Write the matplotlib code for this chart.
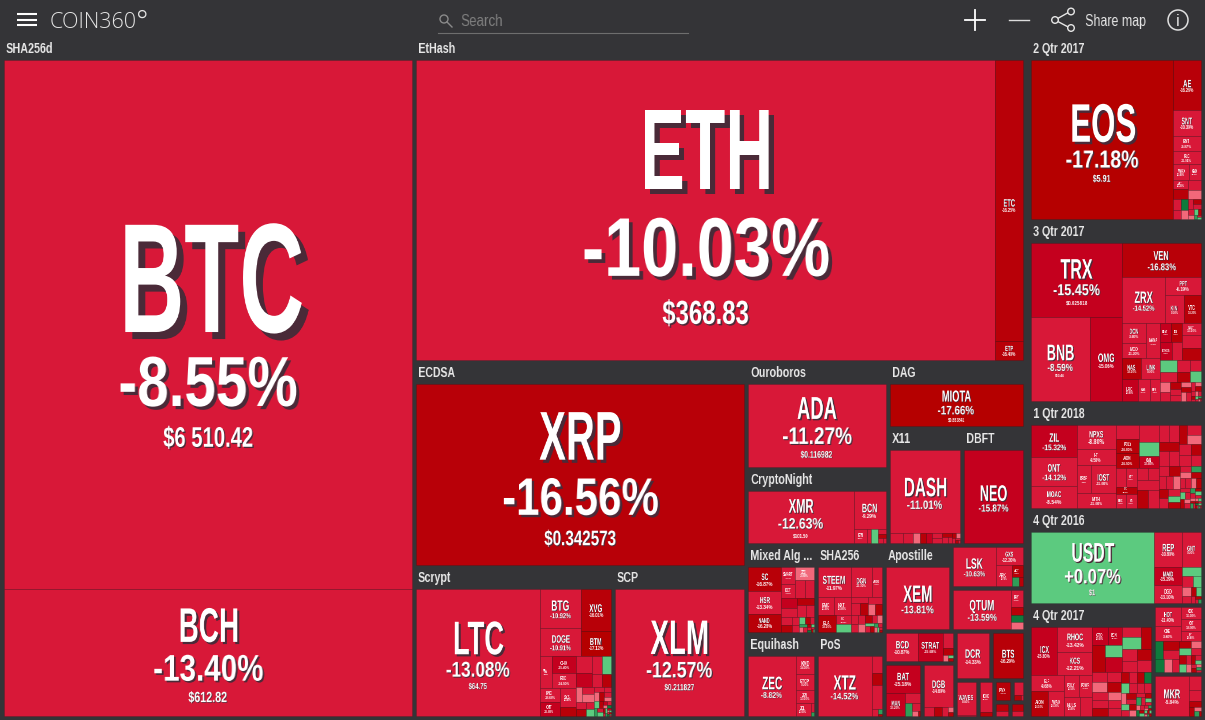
import numpy as np
import matplotlib
matplotlib.use('Agg')
import matplotlib.pyplot as plt
import matplotlib.patheffects as pe
from matplotlib.patches import Rectangle, Circle

# outer size of every block (header included) and how the blocks nest
group_sizes = {
    'sha256d': 280160, 'ethash': 197964, 'ecdsa': 68060, 'scrypt': 30049, 'scp': 20083,
    'ouroboros': 15194, 'cryptonight': 10792, 'dag': 9042, 'x11': 8658, 'dbft': 7371,
    'mixed': 6230, 'sha256': 6052, 'equihash': 5880, 'pos': 5712, 'apostille': 5762,
    'lsk': 3182, 'qtum': 3182, 'bcd': 2272, 'bat': 2118, 'dgb': 1788, 'dcr': 1764, 'bts': 1666,
    'waves': 874, 'kbc': 608, 'pivx': 396, 'xdn': 286, 'tiny1': 250, 'tiny2': 246,
    'gap': 2720, 'q2_17': 31842, 'q3_17': 31668, 'q1_18': 18618, 'q4_16': 16530,
    'q4_17': 14012, 'hot': 3450, 'mkr': 2200,
}
group_tree = ['sha256d', [
    ['ethash', [
        ['ecdsa', ['scrypt', 'scp']],
        [
            [['ouroboros', 'cryptonight'], ['dag', ['x11', 'dbft']]],
            [
                [['mixed', 'sha256'], ['equihash', 'pos']],
                [
                    ['apostille', ['lsk', 'qtum']],
                    [
                        ['bcd', ['bat', 'dgb']],
                        [['dcr', 'bts'], ['waves', ['kbc', [['pivx', 'xdn'], ['tiny1', 'tiny2']]]]],
                    ],
                ],
            ],
        ],
    ]],
    ['gap', [['q2_17', 'q3_17'], ['q1_18', ['q4_16', ['q4_17', ['hot', 'mkr']]]]], 'across'],
]]
group_titles = {
    'sha256d': 'SHA256d', 'ethash': 'EtHash', 'ecdsa': 'ECDSA', 'scrypt': 'Scrypt', 'scp': 'SCP',
    'ouroboros': 'Ouroboros', 'cryptonight': 'CryptoNight', 'dag': 'DAG', 'x11': 'X11', 'dbft': 'DBFT',
    'mixed': 'Mixed Alg ...', 'sha256': 'SHA256', 'equihash': 'Equihash', 'pos': 'PoS',
    'apostille': 'Apostille', 'q2_17': '2 Qtr 2017', 'q3_17': '3 Qtr 2017', 'q1_18': '1 Qtr 2018',
    'q4_16': '4 Qtr 2016', 'q4_17': '4 Qtr 2017',
}

# cells of each block, biggest labelled ones first; unnamed cells had no readable text
names, sizes, changes, prices = {}, {}, {}, {}

names['sha256d'] = ['BTC', 'BCH']
sizes['sha256d'] = [215800, 52000]
changes['sha256d'] = [-8.55, -13.40]
prices['sha256d'] = ['$6 510.42', '$612.82']

names['ethash'] = ['ETH', 'ETC', 'ETP']
sizes['ethash'] = [173000, 7840, 530]
changes['ethash'] = [-10.03, -16.25, -16.4]
prices['ethash'] = ['$368.83']

names['ecdsa'] = ['XRP']
sizes['ecdsa'] = [59000]
changes['ecdsa'] = [-16.56]
prices['ecdsa'] = ['$0.342573']

names['scp'] = ['XLM']
sizes['scp'] = [16500]
changes['scp'] = [-12.57]
prices['scp'] = ['$0.211827']

names['scrypt'] = ['LTC', 'BTG', 'DOGE', 'XVG', 'BTM', 'VIA', 'CHX', 'RDD', 'KNC', 'CMT', 'SYS']
sizes['scrypt'] = [15500, 1596, 1176, 1230, 750, 397, 370, 340, 293, 283, 300, 130,
                   260, 220, 180, 150, 130, 120, 100, 90, 84, 80, 70, 60, 55, 50, 45, 40, 38, 35, 32, 30,
                   28, 25, 22, 20, 18, 16, 14, 12, 10, 9, 8, 7, 6, 5, 4, 4, 3, 3, 2, 2]
changes['scrypt'] = [-13.08, -10.92, -10.91, -16.01, -17.12, -9.2, -15.4, -14.5, -10.6, -15.8, -11.4, -16,
                     -12, -15.5, -11, 0.5, -13, -16, -4, -12, -3, -11, -16, -13, 0.5, -9, -4, -16, -12, -11, -3, 0.6,
                     -16, 2.5, -12, 0.4, -15.5, -3, -11, 3.5, -16, 0.5, -12, 2, -15, -3, 0.4, -12, 3, -16, 0.5, -11]
prices['scrypt'] = ['$64.75']

names['ouroboros'] = ['ADA']
sizes['ouroboros'] = [11400]
changes['ouroboros'] = [-11.27]
prices['ouroboros'] = ['$0.116982']

names['cryptonight'] = ['XMR', 'BCN', 'ETN']
sizes['cryptonight'] = [5460, 1221, 180, 60, 90, 40, 30, 25, 15]
changes['cryptonight'] = [-12.63, -9.29, -12, -11, 0.5, -13, -16, -12, -11]
prices['cryptonight'] = ['$101.50']

names['dag'] = ['MIOTA']
sizes['dag'] = [5600]
changes['dag'] = [-17.66]
prices['dag'] = ['$0.853841']

names['x11'] = ['DASH']
sizes['x11'] = [5644, 130, 90, 70, 60, 60, 50, 45, 40, 30, 25, 20, 18, 14, 10, 8, 6]
changes['x11'] = [-11.01, -12, -11, -3, -16, -15.5, -11, -12, -16, -10, -12, -16, -3, -12, -11, -16, -13]
prices['x11'] = []

names['dbft'] = ['NEO']
sizes['dbft'] = [5490]
changes['dbft'] = [-15.87]
prices['dbft'] = []

names['mixed'] = ['SC', 'HSR', 'NAND', 'SMART', 'DCT', 'XZC']
sizes['mixed'] = [792, 726, 594, 220, 195, 240, 190, 160, 140, 130, 120, 100, 90, 85, 70, 60, 50, 40, 35, 30, 25, 20,
                  18, 15, 12, 10, 8, 6, 5, 4]
changes['mixed'] = [-16.87, -13.34, -16.28, -12, -11, -3, -12, -11, -15.5, -13, -16, -11, -12, -12, -16, -11, -13,
                    0.5, -16, -12, 1.5, -3, -11, -16, 0.4, -12, 3, -11, -16, 0.5]
prices['mixed'] = []

names['sha256'] = ['STEEM', 'DGN', 'ARDR', 'EMC', 'NXT', 'ELA', 'CSC']
sizes['sha256'] = [924, 594, 289, 272, 285, 285, 120, 102, 100, 95, 90, 85, 80, 70, 65, 60, 55, 50, 45, 40, 35, 30, 25,
                   20, 18, 15, 12, 10, 8, 6]
changes['sha256'] = [-11.97, -12.1, -10.4, -11.3, -10.8, -16.1, -12, 0.6, -12, -11, -16, -13, -3, -16, -12, -11, -12,
                     -3, -16, -11, -4, 0.5, -12, -16, 2.5, -11, -3, 0.4, -12, -16]
prices['sha256'] = []

names['equihash'] = ['ZEC', 'KMD', 'BTCP', 'ZEN', 'ZCL']
sizes['equihash'] = [2860, 324, 306, 234, 198, 30, 12]
changes['equihash'] = [-8.82, -14.0, -9.2, -13.0, -11.0, -13, 2]
prices['equihash'] = []

names['pos'] = ['XTZ']
sizes['pos'] = [3200, 170, 120, 230, 40, 20, 10]
changes['pos'] = [-14.52, -12, -16.5, -12, -11, 2.5, -16]
prices['pos'] = []

names['apostille'] = ['XEM']
sizes['apostille'] = [3900]
changes['apostille'] = [-13.81]
prices['apostille'] = []

names['lsk'] = ['LSK', 'GXS', 'ARK', 'ACT']
sizes['lsk'] = [1596, 486, 320, 121, 63, 36]
changes['lsk'] = [-10.63, -12.2, -9.7, -16.0, 2.5, -16]
prices['lsk'] = []

names['qtum'] = ['QTUM', 'PAY']
sizes['qtum'] = [1995, 180, 84, 84, 72]
changes['qtum'] = [-13.59, -11.8, -16.5, 3.5, -3]
prices['qtum'] = []

names['bcd'] = ['BCD', 'STRAT']
sizes['bcd'] = [832, 650, 140, 60, 30, 15, 12]
changes['bcd'] = [-10.87, -15.68, -12, -16, -4, 0.5, -16]
prices['bcd'] = []

names['bat'] = ['BAT', 'MAN']
sizes['bat'] = [952, 437, 150, 85, 70, 30, 10]
changes['bat'] = [-15.18, -15.2, -12, 2.5, -12, -3, -16]
prices['bat'] = []

names['dgb'] = ['DGB']
sizes['dgb'] = [1176, 90, 70, 50, 30, 20]
changes['dgb'] = [-14.69, -12, -16, -11, -3, -16]
prices['dgb'] = []

names['dcr'] = ['DCR']
sizes['dcr'] = [1350]
changes['dcr'] = [-14.33]
prices['dcr'] = []

names['bts'] = ['BTS']
sizes['bts'] = [1300]
changes['bts'] = [-16.29]
prices['bts'] = []

names['waves'] = ['WAVES']
sizes['waves'] = [560, 16]
changes['waves'] = [-8.6, -12]
prices['waves'] = []

names['kbc'] = ['ICXC']
sizes['kbc'] = [300, 42]
changes['kbc'] = [-12.4, -16]
prices['kbc'] = []

names['pivx'] = ['PIVX']
sizes['pivx'] = [224]
changes['pivx'] = [-16.2]
prices['pivx'] = []

names['xdn'] = []
sizes['xdn'] = [100, 30, 10]
changes['xdn'] = [-12, -16, -11]
prices['xdn'] = []

names['tiny1'] = []
sizes['tiny1'] = [60, 45]
changes['tiny1'] = [-16, -12]
prices['tiny1'] = []

names['tiny2'] = []
sizes['tiny2'] = [55, 35]
changes['tiny2'] = [-16, -12]
prices['tiny2'] = []

names['q2_17'] = ['EOS', 'AE', 'SNT', 'BNT', 'RLC', 'WAX', 'GNO', 'ANT']
sizes['q2_17'] = [22300, 1372, 700, 420, 364, 240, 180, 140, 140, 130, 110, 90, 80, 70, 60, 50, 45, 40, 30, 25, 20, 15, 12, 10, 8]
changes['q2_17'] = [-17.18, -16.26, -10.39, -9.87, -11.91, -11.4, -12.1, -11.2, -16, -12, -3, -11, 3.5, -13, -3.5,
                    -12, -16, -11, -12, -3, 0.5, -16, 2.5, -11, 0.4]
prices['q2_17'] = ['$5.91']

names['q3_17'] = ['TRX', 'BNB', 'OMG', 'VEN', 'ZRX', 'PPT', 'KIN', 'VTC', 'DCN', 'MCO', 'MANA', 'NAS', 'LINK', 'LRC',
                  'GAS', 'RPX', 'DENT', 'ICN', 'ETHOS', '', 'SALT']
sizes['q3_17'] = [6734, 4956, 2688, 2652, 2016, 648, 522, 493, 462, 378, 484, 396, 396, 352, 252, 234, 198,
                  198, 209, 198, 209, 260, 220, 190, 170, 150, 130, 120, 110, 100, 90, 80, 70, 60, 55, 50, 45, 40, 35, 30,
                  26, 22, 18, 15, 12, 10, 8, 6, 5, 4, 3, 2]
changes['q3_17'] = [-15.45, -8.59, -15.06, -16.83, -14.52, -6.19, -9.1, -16.2, -9.8, -11.2, -10.4, -16.1, -9.9, -15.8,
                    -13.2, -11.6, -15.9, -16.3, -15.8, -12, -13.1, -12, -16, 0.5, -12, -13, -16, -11, 0.5, -3, -12, -16, -11,
                    -12, -3, -16, -3, -12, -13, -4, -16, -11, -3, -12, -16, -13, 0.5, -11, 2.5, -16, -3, -12]
prices['q3_17'] = ['$0.025818', '$10.44']

names['q1_18'] = ['ZIL', 'ONT', 'MOAC', 'NPXS', 'HT', 'BRBP', 'IOST', 'MITH', '', 'POLY', 'AION', '', '', 'OMN', '', 'GVT',
                  'CVC', 'BBC', 'CS']
sizes['q1_18'] = [1216, 1102, 836, 760, 494, 304, 572, 468, 273, 273, 273, 273, 216, 189, 168, 162, 126, 120, 120, 110,
                  110, 180, 170, 160, 150, 140, 135, 130, 125, 120, 115, 110, 105, 100, 95, 90, 85, 80, 80, 75, 75, 70, 70,
                  65, 60, 60, 55, 55, 50, 50, 45, 45, 40, 40, 35, 35, 30, 30, 25, 25, 22, 20, 18, 16, 14, 12, 10, 10, 8, 8,
                  6, 6, 5, 5, 4, 4, 3, 3, 2, 2]
changes['q1_18'] = [-15.32, -14.12, -8.54, -8.8, -9.5, -7.8, -11.0, -11.0, -12, -16, -16.5, -12, 0.6, -15.8, -12.5, -13,
                    -16, -10, -12, -11, -12, -12, -16, -11, -13, -12, -16, -11, -12, -16, -12, -3, -11, -12, -16, -13, -11, -16,
                    -12, -11, -3, -16, -12, -11, 0.5, -16, -12, -3, 2, -16, -11, -12, -3, -16, -12, 0.5, -11, -16, -3, -12,
                    2.5, -11, -16, 0.5, -12, -3, -16, 1.5, -11, -3, -16, 0.5, -12, 3, -16, -3, 0.5, -12, 2.5, -11]
prices['q1_18'] = []

names['q4_16'] = ['USDT', 'REP', 'GNT', 'MAID', 'DGD']
sizes['q4_16'] = [8540, 952, 646, 504, 476, 170, 120, 90, 80, 60, 50, 40, 30, 20, 14, 10]
changes['q4_16'] = [0.07, -10.8, -9.2, -15.29, -13.1, 0.6, -12, 0.5, -3, -12, -16, 0.7, -11, -16, -12, 2]
prices['q4_16'] = ['$1']

names['q4_17'] = ['ICX', 'RHOC', 'KCS', 'ELF', 'AION', 'WAX', 'POLY', 'POWR', 'NULS', '', 'GTO', 'BCN']
sizes['q4_17'] = [1075, 759, 693, 450, 364, 360, 280, 260, 260, 208, 234, 216,
                  300, 180, 220, 170, 180, 190, 160, 150, 140, 135, 130, 125, 120, 115, 110, 105, 100, 95, 90, 85, 80, 80,
                  75, 70, 70, 65, 60, 55, 55, 50, 45, 45, 40, 40, 35, 30, 30, 25, 25, 22, 20, 18, 16, 14, 12, 10, 10, 8, 8, 6,
                  6, 5, 5, 4, 4, 3, 3, 2, 2]
changes['q4_17'] = [-15.8, -13.42, -12.21, -9.68, -16.1, -10.3, -11.5, -12.4, -11.8, -12.2, -15.6, -15.4,
                    -16, 0.5, -15.5, -12, 0.6, -16, -12, -11, -16, -13, -12, -3, -11, -16, -12, -11, -16, -3, -12, -13, -16, -11,
                    0.5, -12, -16, 4, -11, -12, -3, -16, -11, 0.5, -12, -16, -3, -13, 2.5, -12, -16, 0.5, -11, -3, -12, 3.5,
                    -16, 0.5, -12, -3, 2, -16, 0.4, -11, -3, -16, 0.5, -12, 2.5, -11, -16]
prices['q4_17'] = []

names['hot'] = ['HOT', 'ODE', 'CDC', 'CVT', 'BFT']
sizes['hot'] = [414, 322, 198, 198, 150, 120, 130, 110, 100, 90, 80, 75, 70, 60, 55, 50, 45, 40, 35, 30, 25, 20, 18, 15, 12, 10, 8]
changes['hot'] = [-11.4, -9.6, -11.0, -10.9, -10.4, 4, -16, -12, 4.5, -3, -12, -16, 0.6, -3, -11, -16, -12, 0.5, -3, -16, -11, 0.6,
                  -12, -16, -3, 2.5, -11]
prices['hot'] = []

names['mkr'] = ['MKR']
sizes['mkr'] = [1360, 170, 130, 70, 50, 30, 20, 12]
changes['mkr'] = [-5.84, -11, -12, -16, -16, -3, 2.5, -16]
prices['mkr'] = []


def cell_colour(change):
    if change >= 3:
        return '#0f7a3c'
    if change >= 1:
        return '#2f9d58'
    if change >= 0:
        return '#5cca7f'
    if change > -5:
        return '#f2687a'
    if change > -15:
        return '#d81838'
    if change > -16:
        return '#c4001e'
    if change > -17:
        return '#b80008'
    return '#b50000'


def squeeze(factor, left=False):
    # the reference font is a condensed one, so narrow the drawn text sideways
    def apply(img, dpi):
        h, w = img.shape[:2]
        new_w = max(1, int(round(w * factor)))
        cols = np.linspace(0, w - 1, new_w)
        lo = cols.astype(int)
        hi = np.minimum(lo + 1, w - 1)
        t = (cols - lo)[None, :, None]
        pre = img.copy()
        pre[..., :3] *= img[..., 3:]
        out = pre[:, lo] * (1 - t) + pre[:, hi] * t
        a = out[..., 3:]
        out[..., :3] = np.where(a > 0, out[..., :3] / np.maximum(a, 1e-6), 0)
        return out, 0 if left else (w - new_w) // 2, 0
    return apply


def subtree_size(node):
    if isinstance(node, str):
        return group_sizes[node]
    return subtree_size(node[0]) + subtree_size(node[1])


def split_rect(rect, share, across=False):
    x0, y0, x1, y1 = rect
    if across or x1 - x0 > y1 - y0:
        xm = x0 + (x1 - x0) * share
        return (x0, y0, xm, y1), (xm, y0, x1, y1)
    ym = y0 + (y1 - y0) * share
    return (x0, y0, x1, ym), (x0, ym, x1, y1)


def place_groups(node, rect, out):
    if isinstance(node, str):
        out[node] = rect
        return
    left, right = node[0], node[1]
    a, b = split_rect(rect, subtree_size(left) / subtree_size(node), len(node) > 2)
    place_groups(left, a, out)
    place_groups(right, b, out)


def binary_cells(values, i, j, rect, out):
    # binary treemap: cut where the running total is nearest half
    if j - i == 1:
        out[i] = rect
        return
    running = np.cumsum(values[i:j])
    k = int(np.argmin(np.abs(running[:-1] - running[-1] / 2)))
    a, b = split_rect(rect, running[k] / running[-1])
    binary_cells(values, i, i + k + 1, a, out)
    binary_cells(values, i + k + 1, j, b, out)


def put_text(ax, x, y, txt, cap, factor):
    t = ax.text(x, y, txt, ha='center', va='baseline', fontsize=cap, color='white',
                family=['Liberation Sans', 'DejaVu Sans'], weight='bold')
    t.set_agg_filter(squeeze(factor))
    if cap >= 5:
        off = cap * 0.045
        t.set_path_effects([pe.withSimplePatchShadow(offset=(off / factor, -off),
                                                     shadow_rgbFace='#4a2a38', alpha=1)])


def label_cell(ax, rect, name, change, price):
    x0, y0, x1, y1 = rect
    w, h = x1 - x0, y1 - y0
    name_cap = min(0.275 * min(w, h), w * 0.9 / (len(name) * 0.58))
    pct_cap = min(0.125 * w, 0.21 * h, 60)
    price_cap = 0.4 * pct_cap
    show_price = bool(price) and pct_cap >= 4
    total = name_cap + 0.45 * pct_cap + pct_cap
    if show_price:
        total += 0.4 * pct_cap + price_cap
    cx = (x0 + x1) / 2
    y = (y0 + y1) / 2 + 0.017 * h - total / 2 + name_cap
    put_text(ax, cx, y, name, name_cap, 0.58)
    y += 0.45 * pct_cap + pct_cap
    put_text(ax, cx, y, f'{change:+.2f}%', pct_cap, 0.8)
    if show_price:
        y += 0.4 * pct_cap + price_cap
        put_text(ax, cx, y, price, price_cap, 0.72)


fig = plt.figure(figsize=(12.05, 7.2), dpi=100, facecolor='#343437')
ax = fig.add_axes([0, 0, 1, 1])
ax.set_xlim(0, 1205)
ax.set_ylim(720, 0)
ax.axis('off')

group_rects = {}
place_groups(group_tree, (2, 38, 1203, 718), group_rects)

for key, outer in group_rects.items():
    if key == 'gap':
        continue
    title = group_titles.get(key)
    top = 22 if title else 2
    inner = (outer[0] + 2, outer[1] + top, outer[2] - 2, outer[3] - 2)
    if title:
        t = ax.text(inner[0] + 2, outer[1] + 15, title, ha='left', va='baseline', fontsize=11,
                    color='#e8e8e8', family='Liberation Sans', weight='bold')
        t.set_agg_filter(squeeze(0.7, left=True))
    values = np.array(sizes[key], dtype=float)
    cells = {}
    binary_cells(values, 0, len(values), inner, cells)
    for i in range(len(values)):
        x0, y0, x1, y1 = cells[i]
        ax.add_patch(Rectangle((x0, y0), x1 - x0, y1 - y0, facecolor=cell_colour(changes[key][i]),
                               edgecolor=(0, 0, 0, 0.13), linewidth=0.6))
        name = names[key][i] if i < len(names[key]) else ''
        price = prices[key][i] if i < len(prices[key]) else ''
        if name:
            label_cell(ax, cells[i], name, changes[key][i], price)

# top bar
for y in [14, 19.5, 25]:
    ax.plot([17, 37], [y, y], color='white', lw=1.5, solid_capstyle='butt')
ax.text(49.5, 27.5, 'COIN360', fontsize=15.5, color='#e4e4e4', family='Open Sans', weight='light',
        ha='left', va='baseline')
ax.text(135.5, 31, '°', fontsize=21, color='#e4e4e4', family='Open Sans', weight='light',
        ha='left', va='baseline')

ax.add_patch(Circle((444, 19), 4, fill=False, ec='#8a8a8a', lw=1))
ax.plot([447, 452], [22, 27], color='#8a8a8a', lw=1)
s = ax.text(460, 26, 'Search', fontsize=12, color='#7f7f7f', family='Liberation Sans', ha='left', va='baseline')
s.set_agg_filter(squeeze(0.8, left=True))
ax.plot([438, 688], [33, 33], color='#6e6e6e', lw=0.8)

ax.plot([965, 985], [20, 20], color='white', lw=1.3)
ax.plot([975, 975], [10, 30], color='white', lw=1.3)
ax.plot([1009, 1029], [20, 20], color='#dddddd', lw=1)

ax.plot([1071, 1055, 1071], [11, 20, 28.5], color='#e6e6e6', lw=1)
for cx, cy in [(1071, 11.5), (1055, 20), (1071, 28)]:
    ax.add_patch(Circle((cx, cy), 3.3, facecolor='#343437', ec='#e6e6e6', lw=1, zorder=3))
m = ax.text(1085, 26, 'Share map', fontsize=12.5, color='#e6e6e6', family='Liberation Sans', ha='left', va='baseline')
m.set_agg_filter(squeeze(0.72, left=True))
ax.add_patch(Circle((1178, 20), 10, fill=False, ec='#e0e0e0', lw=1.1))
ax.text(1178, 26, 'i', fontsize=12, color='#e0e0e0', family='Liberation Sans', ha='center', va='baseline')

fig.savefig('out.png', dpi=100, facecolor=fig.get_facecolor())
